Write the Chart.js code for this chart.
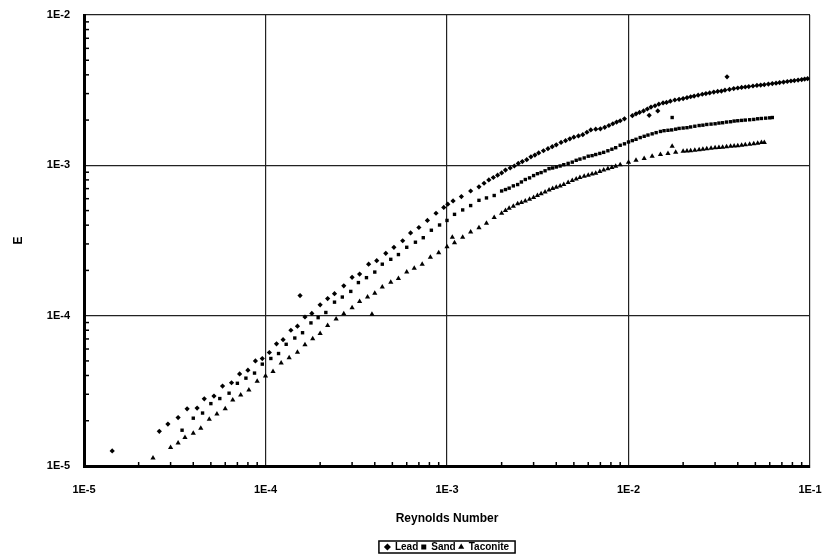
<!DOCTYPE html>
<html>
<head>
<meta charset="utf-8">
<script src="https://cdn.jsdelivr.net/npm/chart.js@4.4.1/dist/chart.umd.min.js"></script>
<style>
  html, body { margin: 0; background: #fff; }
</style>
</head>
<body>
<canvas id="chart" width="830" height="558"></canvas>
<script>
// values (log-log)
const seriesNames = ['Lead', 'Sand', 'Taconite'];
const xTickValues = [1e-5, 1e-4, 1e-3, 1e-2, 1e-1];
const yTickValues = [1e-5, 1e-4, 1e-3, 1e-2];

const leadRe = [1.43e-5, 2.6e-5, 2.9e-5, 3.3e-5, 3.7e-5, 4.2e-5, 4.6e-5, 5.2e-5, 5.8e-5, 6.5e-5, 7.2e-5, 8.0e-5, 8.8e-5, 9.6e-5,
  1.05e-4, 1.15e-4, 1.25e-4, 1.38e-4, 1.5e-4, 1.55e-4, 1.65e-4, 1.8e-4, 2.0e-4, 2.2e-4, 2.4e-4, 2.7e-4, 3.0e-4, 3.3e-4, 3.7e-4,
  4.1e-4, 4.6e-4, 5.1e-4, 5.7e-4, 6.3e-4, 7.0e-4, 7.8e-4, 8.7e-4, 9.6e-4, 1.01e-3, 1.08e-3, 1.2e-3, 1.35e-3, 1.5e-3, 1.7e-3,
  1.9e-3, 2.1e-3, 2.35e-3, 2.6e-3, 2.9e-3, 3.2e-3, 3.6e-3, 4.0e-3, 4.5e-3, 5.0e-3, 5.6e-3, 6.2e-3, 7.0e-3, 7.8e-3, 8.6e-3,
  9.5e-3, 1.05e-2, 1.15e-2, 1.27e-2, 1.4e-2, 1.55e-2, 1.7e-2, 1.9e-2, 2.1e-2, 2.3e-2, 2.55e-2, 2.8e-2, 3.1e-2, 3.4e-2, 3.49e-2,
  3.8e-2, 4.2e-2, 4.6e-2, 5.1e-2, 5.6e-2, 6.2e-2, 6.8e-2, 7.5e-2, 8.2e-2, 9.0e-2, 9.7e-2,
  1.6e-3, 1.8e-3, 2.0e-3, 2.23e-3, 2.47e-3, 2.75e-3, 3.05e-3, 3.4e-3, 3.8e-3, 4.25e-3, 4.75e-3, 5.3e-3, 5.9e-3, 6.6e-3, 7.4e-3,
  8.2e-3, 9.0e-3, 1.1e-2, 1.21e-2, 1.3e-2, 1.33e-2, 1.45e-2, 1.47e-2, 1.62e-2, 1.8e-2, 2.0e-2, 2.2e-2, 2.42e-2, 2.67e-2, 2.95e-2,
  3.25e-2, 3.6e-2, 4.0e-2, 4.4e-2, 4.85e-2, 5.35e-2, 5.9e-2, 6.5e-2, 7.15e-2, 7.85e-2, 8.6e-2, 9.35e-2];
const leadE = [1.26e-5, 1.70e-5, 1.9e-5, 2.1e-5, 2.4e-5, 2.43e-5, 2.8e-5, 2.92e-5, 3.4e-5, 3.58e-5, 4.1e-5, 4.34e-5, 5.0e-5, 5.18e-5,
  5.69e-5, 6.5e-5, 6.92e-5, 8.0e-5, 8.51e-5, 1.36e-4, 9.8e-5, 1.035e-4, 1.18e-4, 1.3e-4, 1.40e-4, 1.58e-4, 1.8e-4, 1.89e-4, 2.2e-4,
  2.32e-4, 2.6e-4, 2.85e-4, 3.15e-4, 3.55e-4, 3.86e-4, 4.3e-4, 4.8e-4, 5.25e-4, 5.52e-4, 5.8e-4, 6.2e-4, 6.75e-4, 7.2e-4, 8.0e-4,
  8.6e-4, 9.3e-4, 9.9e-4, 1.06e-3, 1.14e-3, 1.21e-3, 1.29e-3, 1.37e-3, 1.46e-3, 1.54e-3, 1.60e-3, 1.72e-3, 1.75e-3, 1.84e-3, 1.94e-3,
  2.04e-3, 2.14e-3, 2.25e-3, 2.37e-3, 2.49e-3, 2.60e-3, 2.67e-3, 2.75e-3, 2.82e-3, 2.89e-3, 2.97e-3, 3.03e-3, 3.10e-3, 3.16e-3, 3.88e-3,
  3.24e-3, 3.30e-3, 3.34e-3, 3.40e-3, 3.44e-3, 3.50e-3, 3.55e-3, 3.61e-3, 3.66e-3, 3.72e-3, 3.77e-3,
  7.6e-4, 8.3e-4, 8.9e-4, 9.6e-4, 1.03e-3, 1.09e-3, 1.17e-3, 1.25e-3, 1.33e-3, 1.42e-3, 1.50e-3, 1.57e-3, 1.66e-3, 1.74e-3, 1.79e-3,
  1.89e-3, 1.98e-3, 2.2e-3, 2.3e-3, 2.15e-3, 2.44e-3, 2.3e-3, 2.55e-3, 2.62e-3, 2.72e-3, 2.78e-3, 2.86e-3, 2.93e-3, 3.0e-3, 3.07e-3,
  3.12e-3, 3.2e-3, 3.27e-3, 3.32e-3, 3.37e-3, 3.42e-3, 3.47e-3, 3.52e-3, 3.58e-3, 3.64e-3, 3.69e-3, 3.75e-3];

const sandRe = [3.47e-5, 4.0e-5, 4.5e-5, 5.0e-5, 5.6e-5, 6.3e-5, 7.0e-5, 7.8e-5, 8.7e-5, 9.6e-5, 1.07e-4, 1.18e-4, 1.3e-4, 1.45e-4,
  1.6e-4, 1.78e-4, 1.95e-4, 2.15e-4, 2.4e-4, 2.65e-4, 2.95e-4, 3.25e-4, 3.6e-4, 4.0e-4, 4.4e-4, 4.9e-4, 5.4e-4, 6.0e-4, 6.7e-4,
  7.4e-4, 8.2e-4, 9.1e-4, 1.0e-3, 1.1e-3, 1.22e-3, 1.35e-3, 1.5e-3, 1.65e-3, 1.82e-3, 2.0e-3, 2.2e-3, 2.45e-3, 2.7e-3, 3.0e-3,
  3.3e-3, 3.65e-3, 4.0e-3, 4.4e-3, 4.9e-3, 5.4e-3, 6.0e-3, 6.6e-3, 7.3e-3, 8.1e-3, 9.0e-3, 1.0e-2, 1.1e-2, 1.22e-2, 1.35e-2,
  1.74e-2, 1.5e-2, 1.65e-2, 1.82e-2, 2.0e-2, 2.2e-2, 2.45e-2, 2.7e-2, 3.0e-2, 3.3e-2, 3.65e-2, 4.0e-2, 4.4e-2, 4.9e-2, 5.4e-2, 6.0e-2,
  2.1e-3, 2.32e-3, 2.57e-3, 2.85e-3, 3.15e-3, 3.47e-3, 3.82e-3, 4.2e-3, 4.65e-3, 5.15e-3, 5.7e-3, 6.3e-3, 6.95e-3, 7.7e-3, 8.5e-3,
  9.5e-3, 1.05e-2, 1.16e-2, 1.28e-2, 1.42e-2, 1.57e-2, 1.73e-2, 1.9e-2, 2.1e-2, 2.32e-2, 2.57e-2, 2.85e-2, 3.15e-2, 3.47e-2,
  3.82e-2, 4.2e-2, 4.65e-2, 5.15e-2, 5.7e-2, 6.2e-2];
const sandE = [1.73e-5, 2.08e-5, 2.25e-5, 2.6e-5, 2.81e-5, 3.05e-5, 3.55e-5, 3.84e-5, 4.15e-5, 4.76e-5, 5.19e-5, 5.6e-5, 6.45e-5, 7.1e-5,
  7.7e-5, 8.95e-5, 9.7e-5, 1.05e-4, 1.23e-4, 1.33e-4, 1.45e-4, 1.66e-4, 1.79e-4, 1.95e-4, 2.2e-4, 2.37e-4, 2.55e-4, 2.85e-4, 3.08e-4,
  3.3e-4, 3.7e-4, 4.01e-4, 4.3e-4, 4.72e-4, 5.05e-4, 5.4e-4, 5.85e-4, 6.07e-4, 6.3e-4, 6.75e-4, 7.05e-4, 7.45e-4, 8.05e-4, 8.55e-4,
  8.95e-4, 9.5e-4, 9.75e-4, 1.01e-3, 1.05e-3, 1.10e-3, 1.15e-3, 1.18e-3, 1.22e-3, 1.28e-3, 1.36e-3, 1.43e-3, 1.49e-3, 1.56e-3, 1.62e-3,
  2.08e-3, 1.68e-3, 1.71e-3, 1.74e-3, 1.77e-3, 1.80e-3, 1.84e-3, 1.87e-3, 1.89e-3, 1.92e-3, 1.95e-3, 1.98e-3, 2.00e-3, 2.02e-3, 2.05e-3, 2.07e-3,
  6.9e-4, 7.3e-4, 7.75e-4, 8.25e-4, 8.8e-4, 9.2e-4, 9.6e-4, 9.9e-4, 1.03e-3, 1.08e-3, 1.12e-3, 1.16e-3, 1.20e-3, 1.25e-3, 1.31e-3,
  1.39e-3, 1.46e-3, 1.53e-3, 1.59e-3, 1.65e-3, 1.70e-3, 1.72e-3, 1.76e-3, 1.78e-3, 1.82e-3, 1.85e-3, 1.88e-3, 1.91e-3, 1.94e-3,
  1.97e-3, 1.99e-3, 2.01e-3, 2.04e-3, 2.06e-3, 2.08e-3];

const taconiteRe = [2.4e-5, 3.0e-5, 3.3e-5, 3.6e-5, 4.0e-5, 4.4e-5, 4.9e-5, 5.4e-5, 6.0e-5, 6.6e-5, 7.3e-5, 8.1e-5, 9.0e-5, 1.0e-4,
  1.1e-4, 1.22e-4, 1.35e-4, 1.5e-4, 1.65e-4, 1.82e-4, 2.0e-4, 2.2e-4, 2.45e-4, 2.7e-4, 3.86e-4, 3.0e-4, 3.3e-4, 3.65e-4, 4.0e-4,
  4.4e-4, 4.9e-4, 5.4e-4, 6.0e-4, 6.6e-4, 7.3e-4, 8.1e-4, 9.0e-4, 1.0e-3, 1.07e-3, 1.1e-3, 1.22e-3, 1.35e-3, 1.5e-3, 1.65e-3,
  1.82e-3, 2.0e-3, 2.2e-3, 2.45e-3, 2.7e-3, 3.0e-3, 3.3e-3, 3.65e-3, 4.0e-3, 4.4e-3, 4.9e-3, 5.4e-3, 6.0e-3, 6.6e-3, 7.3e-3,
  8.1e-3, 9.0e-3, 1.0e-2, 1.74e-2, 1.1e-2, 1.22e-2, 1.35e-2, 1.5e-2, 1.65e-2, 1.82e-2, 2.0e-2, 2.2e-2, 2.45e-2, 2.7e-2, 3.0e-2,
  3.3e-2, 3.65e-2, 4.0e-2, 4.4e-2, 4.9e-2, 5.4e-2,
  2.1e-3, 2.32e-3, 2.57e-3, 2.85e-3, 3.15e-3, 3.47e-3, 3.82e-3, 4.2e-3, 4.65e-3, 5.15e-3, 5.7e-3, 6.3e-3, 6.95e-3, 7.7e-3, 8.5e-3,
  2.1e-2, 2.32e-2, 2.57e-2, 2.85e-2, 3.15e-2, 3.47e-2, 3.82e-2, 4.2e-2, 4.65e-2, 5.15e-2, 5.6e-2];
const taconiteE = [1.13e-5, 1.33e-5, 1.42e-5, 1.55e-5, 1.65e-5, 1.78e-5, 2.05e-5, 2.22e-5, 2.4e-5, 2.75e-5, 2.97e-5, 3.2e-5, 3.66e-5, 3.97e-5,
  4.25e-5, 4.85e-5, 5.24e-5, 5.7e-5, 6.4e-5, 7.01e-5, 7.6e-5, 8.6e-5, 9.5e-5, 1.03e-4, 1.02e-4, 1.13e-4, 1.24e-4, 1.33e-4, 1.41e-4,
  1.55e-4, 1.67e-4, 1.77e-4, 1.95e-4, 2.07e-4, 2.2e-4, 2.45e-4, 2.62e-4, 2.87e-4, 3.33e-4, 3.05e-4, 3.32e-4, 3.6e-4, 3.85e-4, 4.12e-4,
  4.49e-4, 4.8e-4, 5.19e-4, 5.55e-4, 5.8e-4, 6.1e-4, 6.48e-4, 6.85e-4, 7.14e-4, 7.45e-4, 7.92e-4, 8.3e-4, 8.59e-4, 8.85e-4, 9.3e-4,
  9.66e-4, 1.01e-3, 1.05e-3, 1.34e-3, 1.08e-3, 1.11e-3, 1.15e-3, 1.18e-3, 1.20e-3, 1.22e-3, 1.24e-3, 1.25e-3, 1.27e-3, 1.29e-3, 1.31e-3,
  1.32e-3, 1.34e-3, 1.35e-3, 1.37e-3, 1.39e-3, 1.42e-3,
  5.0e-4, 5.35e-4, 5.65e-4, 5.95e-4, 6.3e-4, 6.65e-4, 7.0e-4, 7.3e-4, 7.7e-4, 8.1e-4, 8.45e-4, 8.75e-4, 9.1e-4, 9.5e-4, 9.85e-4,
  1.245e-3, 1.26e-3, 1.28e-3, 1.30e-3, 1.315e-3, 1.33e-3, 1.345e-3, 1.36e-3, 1.38e-3, 1.40e-3, 1.42e-3];

const toPoints = (xs, ys) => xs.map((x, i) => ({ x: x, y: ys[i] }));

// short inward minor ticks along the two axes, and a frame round the legend
const minorTicks = {
  id: 'minorTicks',
  afterDraw(chart) {
    const ctx = chart.ctx;
    const area = chart.chartArea;
    const xs = chart.scales.x, ys = chart.scales.y;
    ctx.save();
    ctx.strokeStyle = '#000';
    ctx.lineWidth = 1.5;
    for (let d = -5; d < -1; d++) {
      for (let k = 2; k <= 9; k++) {
        const px = xs.getPixelForValue(k * Math.pow(10, d));
        ctx.beginPath();
        ctx.moveTo(px, area.bottom);
        ctx.lineTo(px, area.bottom - 4);
        ctx.stroke();
      }
    }
    for (let d = -5; d < -2; d++) {
      for (let k = 2; k <= 9; k++) {
        const py = ys.getPixelForValue(k * Math.pow(10, d));
        ctx.beginPath();
        ctx.moveTo(area.left, py);
        ctx.lineTo(area.left + 5, py);
        ctx.stroke();
      }
    }
    const boxes = chart.legend.legendHitBoxes;
    if (boxes && boxes.length) {
      const l = Math.min(...boxes.map(b => b.left)) - 6;
      const r = Math.max(...boxes.map(b => b.left + b.width)) + 6;
      const t = Math.min(...boxes.map(b => b.top)) - 1;
      const b = Math.max(...boxes.map(b => b.top + b.height)) + 1;
      ctx.lineWidth = 1.5;
      ctx.strokeRect(l, t, r - l, b - t);
    }
    ctx.restore();
  }
};

Chart.defaults.color = '#000';
Chart.defaults.font.family = '"Liberation Sans", Arial, sans-serif';

const ctx = document.getElementById('chart').getContext('2d');
new Chart(ctx, {
  type: 'scatter',
  data: {
    datasets: [
      { label: seriesNames[0], data: toPoints(leadRe, leadE), pointStyle: 'rectRot', radius: 2.6,
        backgroundColor: '#000', borderColor: '#000', borderWidth: 0 },
      { label: seriesNames[1], data: toPoints(sandRe, sandE), pointStyle: 'rect', radius: 2.4,
        backgroundColor: '#000', borderColor: '#000', borderWidth: 0 },
      { label: seriesNames[2], data: toPoints(taconiteRe, taconiteE), pointStyle: 'triangle', radius: 3,
        backgroundColor: '#000', borderColor: '#000', borderWidth: 0 }
    ]
  },
  options: {
    responsive: false,
    animation: false,
    layout: { padding: { left: 0, right: 20, top: 15, bottom: -4 } },
    plugins: {
      tooltip: { enabled: false },
      legend: {
        position: 'bottom',
        fullSize: false,
        labels: {
          usePointStyle: true,
          boxWidth: 5,
          boxHeight: 5,
          padding: 3,
          font: { size: 10, weight: 'bold' }
        }
      }
    },
    scales: {
      x: {
        type: 'logarithmic',
        min: 1e-5,
        max: 1e-1,
        afterBuildTicks: (scale) => { scale.ticks = xTickValues.map(v => ({ value: v })); },
        afterFit: (scale) => { scale.height = 73; scale.paddingLeft = 0; scale.paddingRight = 0; },
        ticks: {
          padding: 17,
          font: { size: 11, weight: 'bold' },
          callback: (v) => '1E' + Math.round(Math.log10(v))
        },
        grid: { color: '#222', lineWidth: 1.2, drawTicks: false },
        border: { display: true, color: '#000', width: 3 },
        title: { display: true, text: 'Reynolds Number', font: { size: 12, weight: 'bold' }, padding: { top: 0, bottom: 13 } }
      },
      y: {
        type: 'logarithmic',
        min: 1e-5,
        max: 1e-2,
        afterBuildTicks: (scale) => { scale.ticks = yTickValues.map(v => ({ value: v })); },
        afterFit: (scale) => { scale.width = 84; scale.paddingTop = 0; scale.paddingBottom = 0; },
        ticks: {
          padding: 14,
          font: { size: 11, weight: 'bold' },
          callback: (v) => '1E' + Math.round(Math.log10(v))
        },
        grid: { color: '#222', lineWidth: 1.2, drawTicks: false },
        border: { display: true, color: '#000', width: 3 },
        title: { display: true, text: 'E', font: { size: 12, weight: 'bold' }, padding: { top: 11, bottom: 0 } }
      }
    }
  },
  plugins: [minorTicks]
});
</script>
</body>
</html>
